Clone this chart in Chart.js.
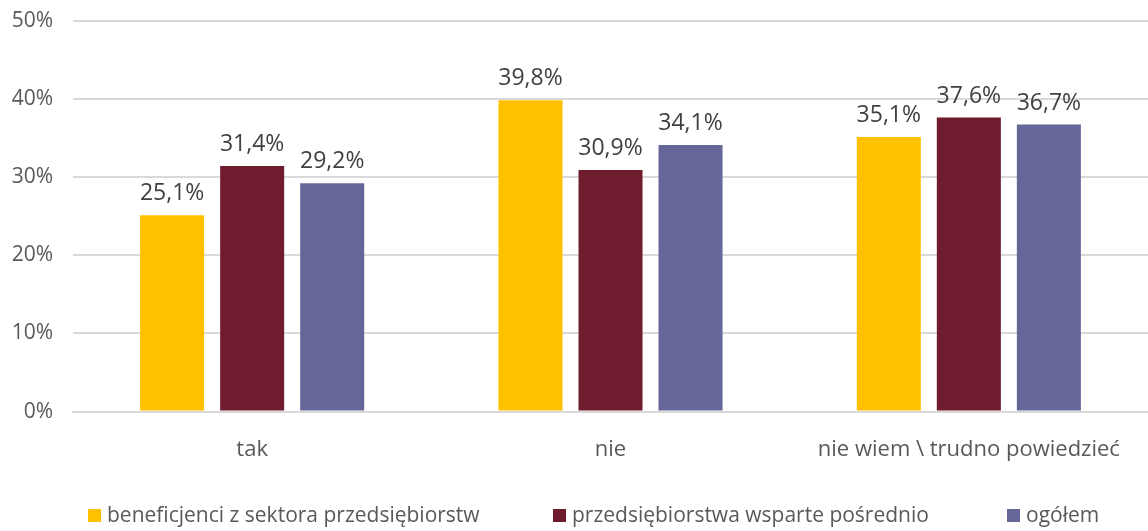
<!DOCTYPE html>
<html><head><meta charset="utf-8">
<script src="https://cdn.jsdelivr.net/npm/chart.js@4"></script>
<style>html,body{margin:0;padding:0;background:#fff}#wrap{width:1148px;height:531px}</style>
</head><body><div id="wrap"><canvas id="c"></canvas></div>
<script>
const categories = ["tak", "nie", "nie wiem \\ trudno powiedzieć"];
const seriesNames = ["beneficjenci z sektora przedsiębiorstw", "przedsiębiorstwa wsparte pośrednio", "ogółem"];
const beneficjenci = [25.1, 39.8, 35.1];
const wsparte = [31.4, 30.9, 37.6];
const ogolem = [29.2, 34.1, 36.7];
const yTicks = [0, 10, 20, 30, 40, 50];
const colors = ["#FFC000", "#6F1D2E", "#666699"];
const FONT = "'Open Sans', 'Noto Sans', sans-serif";

const fmt = v => v.toFixed(1).replace('.', ',') + '%';

const labelPlugin = {
  id: 'barLabels',
  afterDatasetsDraw(chart) {
    const ctx = chart.ctx;
    ctx.save();
    ctx.font = "23px " + FONT;
    ctx.fillStyle = "#404040";
    ctx.textAlign = "center";
    ctx.textBaseline = "alphabetic";
    chart.data.datasets.forEach((ds, i) => {
      chart.getDatasetMeta(i).data.forEach((bar, j) => {
        ctx.fillText(fmt(ds.data[j]), bar.x, bar.y - 15);
      });
    });
    ctx.restore();
  }
};

const legendPlugin = {
  id: 'customLegend',
  afterDraw(chart) {
    const ctx = chart.ctx;
    const xs = [88, 553, 1007];
    const boxY = 509, box = 13, baseY = 522;
    ctx.save();
    ctx.font = "21px " + FONT;
    ctx.textBaseline = "alphabetic";
    ctx.textAlign = "left";
    chart.data.datasets.forEach((ds, i) => {
      ctx.fillStyle = ds.backgroundColor;
      ctx.fillRect(xs[i], boxY, box, box);
      ctx.fillStyle = "#595959";
      ctx.fillText(ds.label, xs[i] + box + 6, baseY);
    });
    ctx.restore();
  }
};

new Chart(document.getElementById('c'), {
  type: 'bar',
  data: {
    labels: categories,
    datasets: [
      {label: seriesNames[0], data: beneficjenci, backgroundColor: colors[0]},
      {label: seriesNames[1], data: wsparte, backgroundColor: colors[1]},
      {label: seriesNames[2], data: ogolem, backgroundColor: colors[2]}
    ]
  },
  options: {
    responsive: true, maintainAspectRatio: false, animation: false,
    devicePixelRatio: 1,
    layout: {padding: {top: 0, right: 0, left: 0, bottom: 43}},
    datasets: {bar: {categoryPercentage: 0.67, barPercentage: 0.8}},
    scales: {
      x: {
        grid: {display: false, drawTicks: false},
        border: {color: '#d9d9d9', width: 2},
        ticks: {color: '#595959', font: {family: FONT, size: 22}, padding: 25, maxRotation: 0}
      },
      y: {
        min: 0, max: 50,
        afterBuildTicks: s => { s.ticks = yTicks.map(v => ({value: v})); },
        afterFit: s => { s.width = 73; },
        grid: {color: '#d9d9d9', lineWidth: 2, drawTicks: false},
        border: {display: false},
        ticks: {color: '#595959', font: {family: FONT, size: 21, lineHeight: 0.05}, padding: 20, callback: v => v + '%'}
      }
    },
    plugins: {
      legend: {display: false},
      tooltip: {enabled: false}
    }
  },
  plugins: [labelPlugin, legendPlugin]
});
</script></body></html>
